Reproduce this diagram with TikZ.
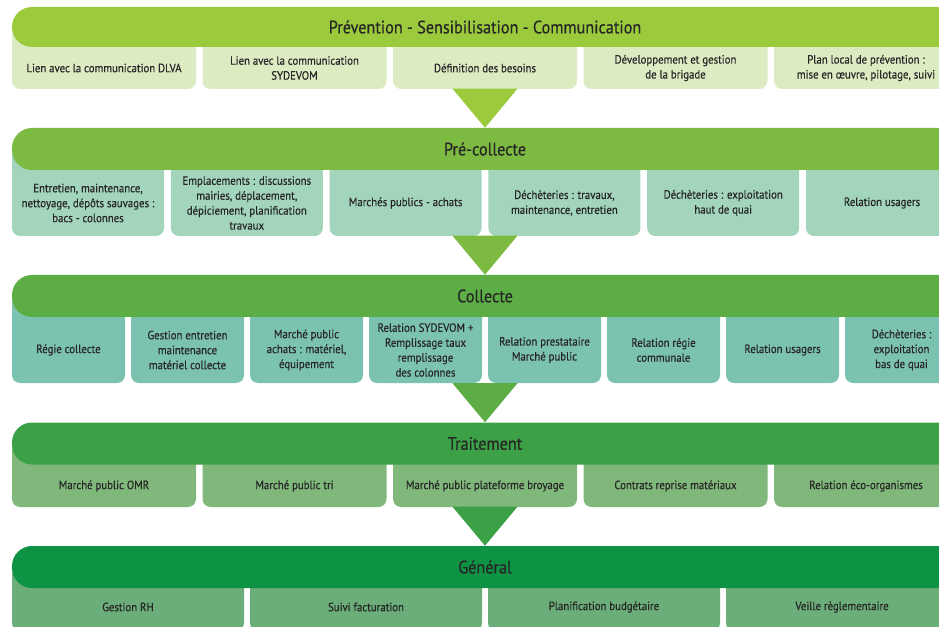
\documentclass[tikz,border=0pt]{standalone}
\usepackage{fontspec}
\setmainfont[FakeStretch=0.9, FakeBold=0.4]{PT Sans}

\definecolor{txtcol}{HTML}{262626}
\definecolor{hdAcol}{HTML}{9BCA3C}
\definecolor{subAcol}{HTML}{DDEBC3}
\definecolor{hdBcol}{HTML}{7DBA41}
\definecolor{subBcol}{HTML}{A3D4BC}
\definecolor{hdCcol}{HTML}{5BAD44}
\definecolor{subCcol}{HTML}{7CC2B1}
\definecolor{hdDcol}{HTML}{3CA046}
\definecolor{subDcol}{HTML}{80B87B}
\definecolor{hdEcol}{HTML}{0E9345}
\definecolor{subEcol}{HTML}{6BAE79}

\begin{document}
\begin{tikzpicture}[x=0.75pt,y=0.75pt,yscale=-1,xscale=1,
	hd/.style={rounded corners=15pt, minimum width=709.5pt, minimum height=31.5pt, inner sep=0pt, text=txtcol, font=\fontsize{13.5}{15}\selectfont},
	cell/.style={align=center, inner sep=0.75pt, text=txtcol, font=\fontsize{9}{11.2}\selectfont},
	sub/.style={rounded corners=6pt}]
		\useasboundingbox (0,0) rectangle (939,627);
		\clip (0,0) rectangle (939,627);
		
		%Shapes: Prevention boxes
		\fill[subAcol, sub] (12,27) rectangle (196,89);
		\fill[subAcol, sub] (202.5,27) rectangle (386.5,89);
		\fill[subAcol, sub] (393,27) rectangle (577,89);
		\fill[subAcol, sub] (583.5,27) rectangle (767.5,89);
		\fill[subAcol, sub] (774,27) rectangle (958,89);
		%Shapes: Pre-collecte boxes
		\fill[subBcol, sub] (12,149) rectangle (164,236);
		\fill[subBcol, sub] (170.8,149) rectangle (322.8,236);
		\fill[subBcol, sub] (329.6,149) rectangle (481.6,236);
		\fill[subBcol, sub] (488.4,149) rectangle (640.4,236);
		\fill[subBcol, sub] (647.2,149) rectangle (799.2,236);
		\fill[subBcol, sub] (806,149) rectangle (958,236);
		%Shapes: Collecte boxes
		\fill[subCcol, sub] (12,296) rectangle (125,383);
		\fill[subCcol, sub] (131,296) rectangle (244,383);
		\fill[subCcol, sub] (250,296) rectangle (363,383);
		\fill[subCcol, sub] (369,296) rectangle (482,383);
		\fill[subCcol, sub] (488,296) rectangle (601,383);
		\fill[subCcol, sub] (607,296) rectangle (720,383);
		\fill[subCcol, sub] (726,296) rectangle (839,383);
		\fill[subCcol, sub] (845,296) rectangle (958,383);
		%Shapes: Traitement boxes
		\fill[subDcol, sub] (12,443) rectangle (196,507);
		\fill[subDcol, sub] (202.5,443) rectangle (386.5,507);
		\fill[subDcol, sub] (393,443) rectangle (577,507);
		\fill[subDcol, sub] (583.5,443) rectangle (767.5,507);
		\fill[subDcol, sub] (774,443) rectangle (958,507);
		%Shapes: General boxes
		\fill[subEcol, sub] (12,567) rectangle (244,631);
		\fill[subEcol, sub] (250,567) rectangle (482,631);
		\fill[subEcol, sub] (488,567) rectangle (720,631);
		\fill[subEcol, sub] (726,567) rectangle (958,631);
		
		%Headers
		\draw (485,27) node (hdA) [hd, fill=hdAcol, minimum height=30pt] {Prévention - Sensibilisation - Communication};
		\draw (485,149) node (hdB) [hd, fill=hdBcol] {Pré-collecte};
		\draw (485,296) node (hdC) [hd, fill=hdCcol] {Collecte};
		\draw (485,443.5) node (hdD) [hd, fill=hdDcol] {Traitement};
		\draw (485,567) node (hdE) [hd, fill=hdEcol] {Général};
		
		%Shapes: Triangles
		\fill[hdAcol] (hdB.north) -- ++(-32.5,-39) -- ++(65,0) -- cycle;
		\fill[hdBcol] (hdC.north) -- ++(-32.5,-39) -- ++(65,0) -- cycle;
		\fill[hdCcol] (hdD.north) -- ++(-32.5,-39) -- ++(65,0) -- cycle;
		\fill[hdDcol] (hdE.north) -- ++(-32.5,-39) -- ++(65,0) -- cycle;
		
		% Text Node
		\draw (104,68) node (a1) [cell] {Lien avec la communication DLVA};
		% Text Node
		\draw (294.5,68) node (a2) [cell] {Lien avec la communication\\SYDEVOM};
		% Text Node
		\draw (485,68) node (a3) [cell] {Définition des besoins};
		% Text Node
		\draw (675.5,68) node (a4) [cell] {Développement et gestion\\de la brigade};
		% Text Node
		\draw (866,68) node (a5) [cell] {Plan local de prévention :\\mise en œuvre, pilotage, suivi};
		
		% Text Node
		\draw (88,203) node (b1) [cell] {Entretien, maintenance,\\nettoyage, dépôts sauvages :\\bacs - colonnes};
		% Text Node
		\draw (246.8,203) node (b2) [cell] {Emplacements : discussions\\mairies, déplacement,\\dépiciement, planification\\travaux};
		% Text Node
		\draw (405.6,203) node (b3) [cell] {Marchés publics - achats};
		% Text Node
		\draw (564.4,203) node (b4) [cell] {Déchèteries : travaux,\\maintenance, entretien};
		% Text Node
		\draw (723.2,203) node (b5) [cell] {Déchèteries : exploitation\\haut de quai};
		% Text Node
		\draw (882,203) node (b6) [cell] {Relation usagers};
		
		% Text Node
		\draw (68.5,350) node (c1) [cell] {Régie collecte};
		% Text Node
		\draw (187.5,350) node (c2) [cell] {Gestion entretien\\maintenance\\matériel collecte};
		% Text Node
		\draw (306.5,350) node (c3) [cell] {Marché public\\achats : matériel,\\équipement};
		% Text Node
		\draw (425.5,350) node (c4) [cell] {Relation SYDEVOM +\\Remplissage taux\\remplissage\\des colonnes};
		% Text Node
		\draw (544.5,350) node (c5) [cell] {Relation prestataire\\Marché public};
		% Text Node
		\draw (663.5,350) node (c6) [cell] {Relation régie\\communale};
		% Text Node
		\draw (782.5,350) node (c7) [cell] {Relation usagers};
		% Text Node
		\draw (901.5,350) node (c8) [cell] {Déchèteries :\\exploitation\\bas de quai};
		
		% Text Node
		\draw (104,486) node (d1) [cell] {Marché public OMR};
		% Text Node
		\draw (294.5,486) node (d2) [cell] {Marché public tri};
		% Text Node
		\draw (485,486) node (d3) [cell] {Marché public plateforme broyage};
		% Text Node
		\draw (675.5,486) node (d4) [cell] {Contrats reprise matériaux};
		% Text Node
		\draw (866,486) node (d5) [cell] {Relation éco-organismes};
		
		% Text Node
		\draw (128,607) node (e1) [cell] {Gestion RH};
		% Text Node
		\draw (366,607) node (e2) [cell] {Suivi facturation};
		% Text Node
		\draw (604,607) node (e3) [cell] {Planification budgétaire};
		% Text Node
		\draw (842,607) node (e4) [cell] {Veille règlementaire};
		
\end{tikzpicture}
\end{document}
